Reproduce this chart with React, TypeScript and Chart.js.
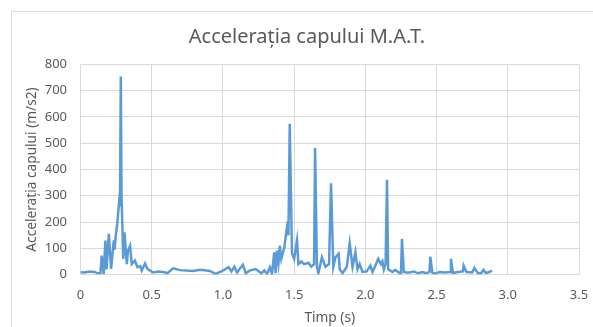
import React, { useEffect, useRef } from "react";
import { Chart, registerables } from "chart.js";

Chart.register(...registerables);

const chartTitle = "Accelerația capului M.A.T.";
const xAxisTitle = "Timp (s)";
const yAxisTitle = "Accelerația capului (m/s2)";

const timeS = [
  0.0, 0.03, 0.06, 0.1, 0.12, 0.14, 0.149, 0.163, 0.175, 0.183, 0.199, 0.215, 0.234, 0.24, 0.246,
  0.258, 0.272, 0.277, 0.283, 0.288, 0.295, 0.3, 0.309, 0.325, 0.333, 0.348, 0.36, 0.382, 0.4, 0.42,
  0.43, 0.453, 0.47, 0.51, 0.55, 0.59, 0.61, 0.65, 0.7, 0.79, 0.84, 0.91, 0.945, 0.99, 1.04, 1.06,
  1.08, 1.1, 1.14, 1.16, 1.19, 1.23, 1.27, 1.29, 1.31, 1.33, 1.345, 1.36, 1.37, 1.38, 1.39, 1.4,
  1.41, 1.43, 1.44, 1.45, 1.46, 1.469, 1.485, 1.5, 1.52, 1.53, 1.55, 1.57, 1.6, 1.62, 1.64, 1.647,
  1.66, 1.67, 1.695, 1.72, 1.745, 1.759, 1.775, 1.79, 1.812, 1.82, 1.84, 1.87, 1.89, 1.91, 1.93,
  1.945, 1.96, 1.98, 2.01, 2.035, 2.05, 2.07, 2.09, 2.11, 2.12, 2.13, 2.142, 2.152, 2.16, 2.175,
  2.19, 2.21, 2.24, 2.25, 2.257, 2.27, 2.29, 2.31, 2.34, 2.37, 2.4, 2.43, 2.45, 2.456, 2.47, 2.49,
  2.52, 2.56, 2.595, 2.601, 2.615, 2.65, 2.685, 2.69, 2.71, 2.75, 2.765, 2.79, 2.81, 2.83, 2.845,
  2.87, 2.89,
];

const accel = [
  9, 8, 12, 10, 5, 5, 72, 3, 130, 20, 155, 22, 130, 95, 140,
  194, 282, 260, 754, 300, 161, 60, 161, 40, 90, 110, 40, 53, 28, 32,
  15, 42, 22, 8, 12, 9, 5, 24, 17, 14, 18, 14, 3, 12, 28, 12,
  30, 8, 38, 5, 16, 21, 5, 16, 2, 28, 2, 85, 5, 91, 45, 110,
  60, 100, 142, 180, 150, 574, 80, 60, 130, 40, 50, 40, 45, 30, 40, 482,
  30, 5, 66, 30, 40, 348, 30, 66, 79, 20, 5, 30, 119, 30, 85,
  20, 40, 10, 12, 34, 10, 34, 60, 40, 50, 20, 40, 361, 20, 15,
  10, 18, 6, 5, 136, 10, 8, 8, 12, 5, 10, 5, 10, 68, 8, 4,
  10, 8, 10, 60, 6, 10, 12, 34, 10, 8, 25, 6, 4, 18, 6,
  10, 15,
];

const xMin = 0;
const xMax = 3.5;
const xStep = 0.5;
const yMin = 0;
const yMax = 800;
const yStep = 100;

const FONT = "'Noto Sans', 'DejaVu Sans', sans-serif";
const TEXT = "#595959";
const GRID = "#d9d9d9";

export default function App() {
  const ref = useRef<HTMLCanvasElement | null>(null);

  useEffect(() => {
    if (!ref.current) return;
    const points = timeS.map((t, i) => ({ x: t, y: accel[i] }));
    const chart = new Chart(ref.current, {
      type: "line",
      data: {
        datasets: [
          {
            data: points,
            borderColor: "#5B9BD5",
            borderWidth: 2.5,
            pointRadius: 0,
            tension: 0,
            fill: false,
          },
        ],
      },
      options: {
        responsive: false,
        animation: false,
        devicePixelRatio: 1,
        layout: { padding: { left: 0, right: 0, top: 0, bottom: 0 } },
        plugins: {
          legend: { display: false },
          tooltip: { enabled: false },
          title: {
            display: true,
            text: chartTitle,
            color: TEXT,
            font: { family: FONT, size: 20, weight: "normal" },
            padding: { top: 14, bottom: 15.4 },
          },
        },
        scales: {
          x: {
            type: "linear",
            min: xMin,
            max: xMax,
            ticks: {
              stepSize: xStep,
              color: TEXT,
              font: { family: FONT, size: 13 },
              padding: 13,
              maxRotation: 0,
            },
            grid: { color: GRID, lineWidth: 1, drawTicks: false },
            border: { display: false },
            title: {
              display: true,
              text: xAxisTitle,
              color: TEXT,
              font: { family: FONT, size: 13.7 },
              padding: { top: 0, bottom: 14.5 },
            },
            afterFit: (s: any) => {
              s.height = 66.4;
              s.paddingLeft = 0;
              s.paddingRight = 0;
            },
          },
          y: {
            type: "linear",
            min: yMin,
            max: yMax,
            ticks: {
              stepSize: yStep,
              color: TEXT,
              font: { family: FONT, size: 13 },
              padding: 13.5,
            },
            grid: { color: GRID, lineWidth: 1, drawTicks: false },
            border: { display: false },
            title: {
              display: true,
              text: yAxisTitle,
              color: TEXT,
              font: { family: FONT, size: 13.7 },
              padding: { top: 13, bottom: 0 },
            },
            afterFit: (s: any) => {
              s.width = 69.5;
              s.paddingTop = 0;
              s.paddingBottom = 0;
            },
          },
          yRightSpacer: {
            type: "linear",
            position: "right",
            display: true,
            min: 0,
            max: 1,
            ticks: { display: false },
            grid: { display: false, drawTicks: false },
            border: { display: false },
            afterFit: (s: any) => {
              s.width = 24;
              s.paddingTop = 0;
              s.paddingBottom = 0;
            },
          },
        },
      },
    });
    return () => chart.destroy();
  }, []);

  return (
    <div
      style={{
        position: "fixed",
        left: 0,
        top: 0,
        width: 593,
        height: 327,
        overflow: "hidden",
        background: "#ffffff",
      }}
    >
      <div
        style={{
          position: "absolute",
          left: 11,
          top: 11,
          width: 600,
          height: 340,
          border: "1px solid #d9d9d9",
          boxSizing: "border-box",
        }}
      />
      <canvas
        ref={ref}
        width={592}
        height={330}
        style={{ position: "absolute", left: 11, top: 11, width: 592, height: 330 }}
      />
    </div>
  );
}
